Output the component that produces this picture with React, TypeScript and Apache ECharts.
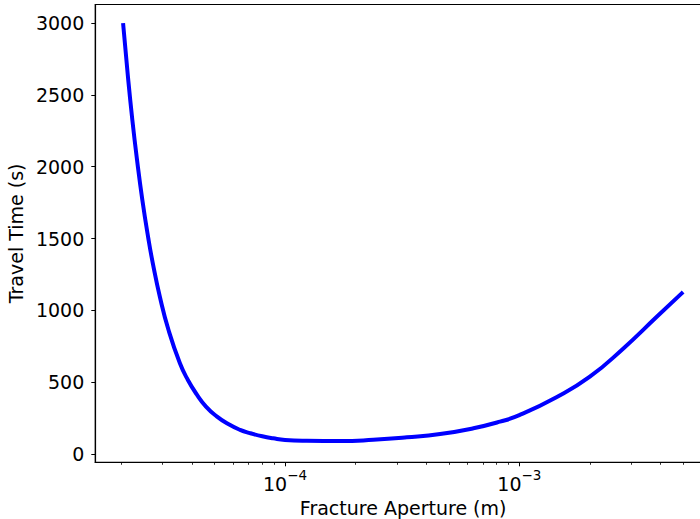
import React, { useEffect, useRef } from "react";
import * as echarts from "echarts";

// Fracture aperture (m) and travel time (s)
const apertureM = [
  2.04e-5, 2.133e-5, 2.231e-5, 2.336e-5, 2.461e-5, 2.61e-5, 2.728e-5, 2.923e-5,
  3.183e-5, 3.56e-5, 3.85e-5, 4.2e-5, 4.6e-5, 5.11e-5, 5.7e-5, 6.43e-5,
  7.09e-5, 8.0e-5, 8.91e-5, 1.0e-4, 1.24e-4, 1.72e-4, 2.38e-4, 3.31e-4,
  4.59e-4, 6.37e-4, 8.27e-4, 1.0e-3, 1.44e-3, 2.0e-3, 2.78e-3, 3.86e-3,
  4.93e-3,
];
const travelTimeS = [
  2985, 2637, 2324, 2046, 1768, 1501, 1327, 1095,
  863, 631, 515, 415, 330, 262, 210, 168,
  145, 123, 109, 98, 92, 90, 99, 116,
  139, 179, 225, 270, 395, 538, 735, 955,
  1118,
];

const yTickValues = [0, 500, 1000, 1500, 2000, 2500, 3000];
const xMajorTicks = [1e-4, 1e-3];
const xMajorExponents = ["−4", "−3"];
const xMinorTicks = [
  2e-5, 3e-5, 4e-5, 5e-5, 6e-5, 7e-5, 8e-5, 9e-5,
  2e-4, 3e-4, 4e-4, 5e-4, 6e-4, 7e-4, 8e-4, 9e-4,
  2e-3, 3e-3, 4e-3, 5e-3, 6e-3,
];

const X_MIN = 1.55e-5;
const X_MAX = 6.577e-3;
const Y_MIN = -57.8;
const Y_MAX = 3128.8;

const FONT = "DejaVu Sans";

export default function App() {
  const ref = useRef<HTMLDivElement>(null);

  useEffect(() => {
    if (!ref.current) return;
    const chart = echarts.init(ref.current, undefined, { renderer: "svg" });
    const seriesData = apertureM.map((a, i) => [a, travelTimeS[i]]);

    chart.setOption({
      animation: false,
      backgroundColor: "#ffffff",
      grid: {
        left: 95.3,
        right: -11,
        top: 4.5,
        bottom: 56.7,
        containLabel: false,
        outerBoundsMode: "none",
        show: true,
        borderColor: "#000000",
        borderWidth: 1.2,
        backgroundColor: "transparent",
      },
      xAxis: [
        {
          type: "log",
          logBase: 10,
          min: X_MIN,
          max: X_MAX,
          position: "bottom",
          name: "Fracture Aperture (m)",
          nameLocation: "middle",
          nameGap: 27,
          nameTextStyle: { fontFamily: FONT, fontSize: 19, color: "#000" },
          axisLine: { show: true, onZero: false, lineStyle: { color: "#000", width: 1.2 } },
          axisTick: {
            show: true,
            customValues: xMajorTicks,
            length: 4,
            lineStyle: { color: "#000", width: 1 },
          },
          minorTick: { show: false },
          splitLine: { show: false },
          axisLabel: {
            show: true,
            customValues: xMajorTicks,
            margin: 5.5,
            formatter: (v: number) => {
              const idx = xMajorTicks.findIndex((t) => Math.abs(Math.log10(t) - Math.log10(v)) < 1e-6);
              const ex = idx >= 0 ? xMajorExponents[idx] : "";
              return `{b|10}{s|${ex}}`;
            },
            rich: {
              b: { fontFamily: FONT, fontSize: 19, color: "#000", lineHeight: 26, verticalAlign: "bottom" },
              s: { fontFamily: FONT, fontSize: 13.5, color: "#000", lineHeight: 15, verticalAlign: "top" },
            },
          },
        },
        {
          type: "log",
          logBase: 10,
          min: X_MIN,
          max: X_MAX,
          position: "bottom",
          axisLine: { show: false, onZero: false },
          axisTick: {
            show: true,
            customValues: xMinorTicks,
            length: 2.5,
            lineStyle: { color: "#000", width: 0.8 },
          },
          axisLabel: { show: false },
          splitLine: { show: false },
        },
      ],
      yAxis: {
        type: "value",
        min: Y_MIN,
        max: Y_MAX,
        name: "Travel Time (s)",
        nameLocation: "middle",
        nameGap: 63,
        nameTextStyle: { fontFamily: FONT, fontSize: 19, color: "#000" },
        axisLine: { show: true, onZero: false, lineStyle: { color: "#000", width: 1.2 } },
        axisTick: {
          show: true,
          customValues: yTickValues,
          length: 4,
          lineStyle: { color: "#000", width: 1 },
        },
        splitLine: { show: false },
        axisLabel: {
          show: true,
          customValues: yTickValues,
          margin: 11,
          fontFamily: FONT,
          fontSize: 19,
          color: "#000",
          formatter: (v: number) => String(Math.round(v)),
        },
      },
      series: [
        {
          type: "line",
          xAxisIndex: 0,
          yAxisIndex: 0,
          data: seriesData,
          showSymbol: false,
          smooth: 0.5,
          lineStyle: { color: "#0000ff", width: 4, cap: "square" },
          itemStyle: { color: "#0000ff" },
        },
      ],
    });

    return () => chart.dispose();
  }, []);

  return (
    <div
      ref={ref}
      style={{ position: "absolute", left: 0, top: 0, width: 700, height: 519, background: "#fff" }}
    />
  );
}
